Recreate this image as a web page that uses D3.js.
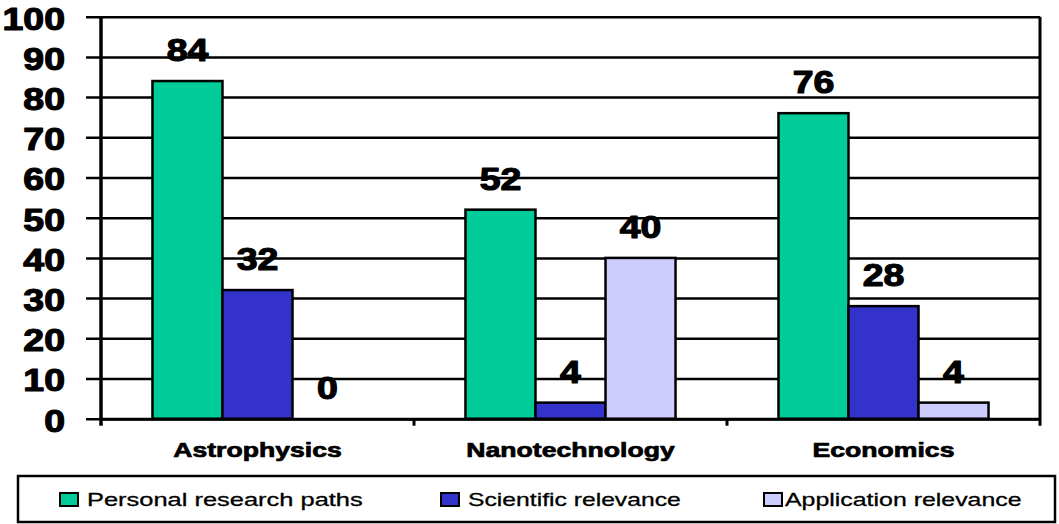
<!DOCTYPE html>
<html>
<head>
<meta charset="utf-8">
<script src="https://cdn.jsdelivr.net/npm/d3@7/dist/d3.min.js"></script>
<style>
  html, body { margin: 0; padding: 0; background: #fff; }
  svg { display: block; }
  text { font-family: "Liberation Sans", Arial, sans-serif; fill: #000; }
</style>
</head>
<body>
<svg id="chart" width="1059" height="524"></svg>
<script>
// Survey results by research field (percent)
const categories = ["Astrophysics", "Nanotechnology", "Economics"];
const seriesNames = ["Personal research paths", "Scientific relevance", "Application relevance"];
const personalPaths = [84, 52, 76];
const scientificRelevance = [32, 4, 28];
const applicationRelevance = [0, 40, 4];
const yTicks = [0, 10, 20, 30, 40, 50, 60, 70, 80, 90, 100];
const seriesColors = ["#00CC99", "#3333CC", "#CCCCFF"];

const seriesValues = [personalPaths, scientificRelevance, applicationRelevance];

const svg = d3.select("#chart");
const plot = { left: 101, right: 1040, top: 16.7, bottom: 418.7 };

// widen glyphs horizontally to get the broad, bitmap-like lettering
function stretch(sel, k) {
  sel.each(function (d, i) {
    const f = typeof k === "function" ? k(d, i) : k;
    const w = this.getComputedTextLength();
    d3.select(this).attr("textLength", w * f).attr("lengthAdjust", "spacingAndGlyphs");
  });
}
// heavy weight: bold face plus a thin outline of the same colour
function heavy(sel, sw) {
  sel.attr("font-weight", "bold").attr("stroke", "#000").attr("stroke-width", sw)
    .attr("stroke-linejoin", "round");
}

const x0 = d3.scaleBand().domain(categories).range([plot.left, plot.right]).padding(0);
const x1 = d3.scaleBand().domain(seriesNames).range([0, x0.bandwidth()])
  .paddingInner(0).paddingOuter(0.735);
const y = d3.scaleLinear().domain([0, 100]).range([plot.bottom, plot.top]);

// horizontal gridlines + value axis labels
const gridLeft = 86;
const yAxis = svg.append("g")
  .attr("transform", `translate(${gridLeft},0)`)
  .call(d3.axisLeft(y).tickValues(yTicks).tickFormat(d3.format("d"))
    .tickSizeInner(-(plot.right - gridLeft)).tickSizeOuter(0).tickPadding(21));
yAxis.select(".domain").remove();
yAxis.selectAll(".tick line").attr("stroke", "#000").attr("stroke-width", 2.5);
yAxis.selectAll(".tick text")
  .attr("font-size", 32).attr("dy", "0.39em").attr("fill", "#000");
heavy(yAxis.selectAll(".tick text"), 1.2);
stretch(yAxis.selectAll(".tick text"), 1.17);

// plot frame: left axis, right edge, category ticks below baseline
svg.append("line").attr("x1", plot.left).attr("x2", plot.left)
  .attr("y1", plot.top).attr("y2", plot.bottom + 7)
  .attr("stroke", "#000").attr("stroke-width", 3.5);
svg.append("line").attr("x1", plot.right).attr("x2", plot.right)
  .attr("y1", plot.top).attr("y2", plot.bottom + 7)
  .attr("stroke", "#000").attr("stroke-width", 3);

const xAxis = svg.append("g")
  .attr("transform", `translate(0,${plot.bottom})`)
  .call(d3.axisBottom(x0).tickSize(0).tickPadding(24));
xAxis.select(".domain").attr("stroke", "#000").attr("stroke-width", 3);
xAxis.selectAll(".tick text").attr("font-size", 20).attr("fill", "#000");
heavy(xAxis.selectAll(".tick text"), 0.7);
stretch(xAxis.selectAll(".tick text"), 1.33);

svg.append("g").selectAll("line")
  .data(categories.slice(1))
  .join("line")
  .attr("x1", d => x0(d)).attr("x2", d => x0(d))
  .attr("y1", plot.bottom).attr("y2", plot.bottom + 7)
  .attr("stroke", "#000").attr("stroke-width", 3);

// grouped bars
const rows = categories.map((c, i) => ({
  cat: c,
  vals: seriesNames.map((s, j) => ({ s, j, v: seriesValues[j][i] }))
}));

const groups = svg.append("g").selectAll("g")
  .data(rows).join("g")
  .attr("transform", d => `translate(${x0(d.cat)},0)`);

groups.selectAll("rect")
  .data(d => d.vals.filter(e => e.v > 0))
  .join("rect")
  .attr("x", d => x1(d.s))
  .attr("y", d => y(d.v))
  .attr("width", x1.bandwidth())
  .attr("height", d => y(0) - y(d.v))
  .attr("fill", d => seriesColors[d.j])
  .attr("stroke", "#000").attr("stroke-width", 2.5);

const valueLabels = groups.selectAll("text")
  .data(d => d.vals)
  .join("text")
  .attr("x", d => x1(d.s) + x1.bandwidth() / 2)
  .attr("y", d => y(d.v) - 20)
  .attr("text-anchor", "middle")
  .attr("font-size", 32)
  .text(d => d.v);
heavy(valueLabels, 1.2);
stretch(valueLabels, 1.17);

// legend
const legend = svg.append("g");
legend.append("rect")
  .attr("x", 18).attr("y", 476).attr("width", 1037).attr("height", 46)
  .attr("fill", "#fff").attr("stroke", "#000").attr("stroke-width", 2.5);

const legendX = [60, 441, 764];
const legendTextX = [27, 27, 21];
const legendStretch = [1.375, 1.335, 1.345];
const items = legend.selectAll("g.item")
  .data(seriesNames.map((s, j) => ({ s, j })))
  .join("g").attr("class", "item")
  .attr("transform", d => `translate(${legendX[d.j]},0)`);
items.append("rect")
  .attr("x", 0).attr("y", 493).attr("width", 18).attr("height", 13)
  .attr("fill", d => seriesColors[d.j])
  .attr("stroke", "#000").attr("stroke-width", 2);
const legendText = items.append("text")
  .attr("x", d => legendTextX[d.j]).attr("y", 506)
  .attr("font-size", 18.5)
  .attr("stroke", "#000").attr("stroke-width", 0.3)
  .text(d => d.s);
stretch(legendText, d => legendStretch[d.j]);
</script>
</body>
</html>
